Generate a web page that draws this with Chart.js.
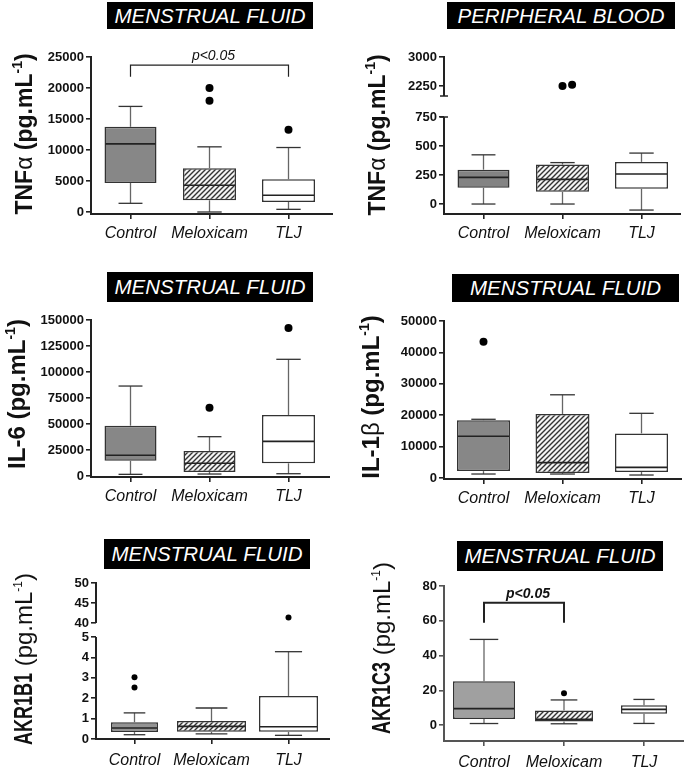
<!DOCTYPE html>
<html><head><meta charset="utf-8">
<script src="https://cdn.jsdelivr.net/npm/chart.js@4.4.0/dist/chart.umd.min.js"></script>
<style>
body{margin:0;background:#fff;width:685px;height:767px;position:relative;overflow:hidden;font-family:"Liberation Sans",Arial,sans-serif}
.ttl{position:absolute;background:#000;color:#fff;font:italic 20.5px "Liberation Sans",Arial,sans-serif;display:flex;align-items:center;justify-content:center;white-space:nowrap;z-index:5}
canvas{position:absolute}
</style></head><body>
<div class="ttl" style="left:107px;top:2px;width:206px;height:27px">MENSTRUAL FLUID</div>
<div class="ttl" style="left:447px;top:2px;width:228px;height:27px">PERIPHERAL BLOOD</div>
<div class="ttl" style="left:107px;top:272px;width:206px;height:30px">MENSTRUAL FLUID</div>
<div class="ttl" style="left:452px;top:274px;width:227px;height:28px">MENSTRUAL FLUID</div>
<div class="ttl" style="left:104px;top:539px;width:206px;height:30px">MENSTRUAL FLUID</div>
<div class="ttl" style="left:457px;top:541px;width:206px;height:30px">MENSTRUAL FLUID</div>
<script>
const groups = ['Control', 'Meloxicam', 'TLJ'];

// each box: [lower whisker, Q1, median, Q3, upper whisker]
const tnfMenstrualBoxes = [[1400,4690,10990,13740,17030],[0,1890,4310,7060,10510],[430,1620,2700,5280,10400]];
const tnfMenstrualOutliers = [[],[17950,20000],[13260]];
const tnfMenstrualTicks = [0,5000,10000,15000,20000,25000];
const tnfMenstrualBracket = ['Control','TLJ',23700,21800];

const tnfBloodBoxes = [[0,140,230,296,424],[0,105,212,340,357],[-52,131,259,363,439]];
const tnfBloodOutliers = [[],[2250,2285],[]];
const tnfBloodTicksLow = [0,250,500,750];
const tnfBloodTicksHigh = [2250,3000];

const il6Boxes = [[1600,14700,19900,48400,86500],[1900,3800,12200,24000,37800],[2200,12200,33300,58700,112200]];
const il6Outliers = [[],[65700],[142300]];
const il6Ticks = [0,25000,50000,75000,100000,125000,150000];

const il1bBoxes = [[1270,2200,13300,18400,18700],[1270,1600,4900,20400,26500],[950,1900,3400,14200,20600]];
const il1bOutliers = [[43400],[],[]];
const il1bTicks = [0,10000,20000,30000,40000,50000];

const akr1b1Boxes = [[0.21,0.34,0.54,0.82,1.28],[0.25,0.35,0.62,0.88,1.52],[0.18,0.35,0.6,2.11,4.28]];
const akr1b1Outliers = [[2.52,3.03],[],[41.4]];
const akr1b1TicksLow = [0,1,2,3,4,5];
const akr1b1TicksHigh = [40,45,50];

const akr1c3Boxes = [[0.95,3.6,9.5,25.3,49.3],[0.8,2.1,3.4,8.4,14.5],[1,6.5,9.1,11.4,14.8]];
const akr1c3Outliers = [[],[18.3],[]];
const akr1c3Ticks = [0,20,40,60,80];
const akr1c3Bracket = ['Control','Meloxicam',70.3,58.9];

const FF = '"Liberation Sans", Arial, sans-serif';

function hatch(){
  const c = document.createElement('canvas'); const s = 5;
  c.width = s; c.height = s; const g = c.getContext('2d');
  g.fillStyle = '#f4f4f4'; g.fillRect(0,0,s,s);
  g.strokeStyle = '#333'; g.lineWidth = 1.4;
  g.beginPath();
  g.moveTo(-1, s+1); g.lineTo(s+1, -1);
  g.moveTo(-1, 1); g.lineTo(1, -1);
  g.moveTo(s-1, s+1); g.lineTo(s+1, s-1);
  g.stroke();
  return g.createPattern(c, 'repeat');
}

function bold(sz){return 'bold '+sz+'px '+FF;}
function norm(sz){return sz+'px '+FF;}
function yTitle(name, greek, sz){
  const s = [{t:name, font:bold(sz)}];
  if (greek) s.push({t:greek, font:norm(sz)});
  s.push({t:' (pg.mL', font:bold(sz)});
  s.push({t:'-1', font:bold(Math.round(sz*0.6)), dy:sz*0.42});
  s.push({t:')', font:bold(sz)});
  return s;
}
function yTitleAkr(name, sz, sx){
  return [{t:name, font:bold(sz+1), sx:sx},{t:' (pg.mL', font:norm(sz)},{t:'-1', font:norm(Math.round(sz*0.5)), dy:sz*0.42},{t:')', font:norm(sz)}];
}

const panels = [
 {boxes:tnfMenstrualBoxes, outliers:tnfMenstrualOutliers, ticks:tnfMenstrualTicks, bracket:tnfMenstrualBracket,
  cv:[0,35,340,215], area:[91,57,328,214], axisEnd:333, range:[-323,25000], boxW:[52,53,53], fill:'#878787', r:4,
  title:yTitle('TNF','\u03b1',23), titlePos:[32,134], lblPad:5, xh:30, pText:'italic 14px '+FF, pLw:1.2},
 {boxes:tnfBloodBoxes, outliers:tnfBloodOutliers, ticks:tnfBloodTicksLow, ticksHigh:tnfBloodTicksHigh, lowTopPx:117,
  cv:[340,35,345,215], area:[444,57,681,214], axisEnd:681, range:[-86,750], rangeHigh:[1448,3000], breakVal:1991, breakCaps:true,
  boxW:[52,53,53], fill:'#838383', r:4, title:yTitle('TNF','\u03b1',23), titlePos:[385,135], lblPad:5, xh:30},
 {boxes:il6Boxes, outliers:il6Outliers, ticks:il6Ticks,
  cv:[0,305,340,207], area:[91,320,328,477], axisEnd:330, range:[-960,150000], boxW:[52,52,53], fill:'#878787', r:4,
  title:yTitle('IL-6',null,24), titlePos:[25,394], lblPad:5, xh:30},
 {boxes:il1bBoxes, outliers:il1bOutliers, ticks:il1bTicks,
  cv:[340,305,345,210], area:[444,321,681,479], axisEnd:682, range:[-318,50000], boxW:[53,54,53], fill:'#878787', r:4,
  title:yTitle('IL-1','\u03b2',24), titlePos:[379,397], lblPad:5, xh:30},
 {boxes:akr1b1Boxes, outliers:akr1b1Outliers, ticks:akr1b1TicksLow, ticksHigh:akr1b1TicksHigh, lowTopPx:637,
  cv:[0,545,340,222], area:[96,583,327,739], axisEnd:330, range:[0,5], rangeHigh:[36.5,50], breakVal:40, breakCaps:false,
  boxW:[47,69,59], fill:'#939393', r:3, title:yTitleAkr('AKR1B1',24,0.72), titlePos:[32,659], lblPad:7, xh:28},
 {boxes:akr1c3Boxes, outliers:akr1c3Outliers, ticks:akr1c3Ticks, bracket:akr1c3Bracket,
  cv:[340,545,345,222], area:[444,586,684,741], axisEnd:684, range:[-9.1,80], boxW:[62,58,46], fill:'#a0a0a0', r:3,
  title:yTitleAkr('AKR1C3',24,0.72), titlePos:[390,648], lblPad:7, xh:26, pText:'bold italic 14px '+FF, pLw:2, axisColor:'#555'}
];

function line(ctx,x1,y1,x2,y2){ctx.beginPath();ctx.moveTo(x1,y1);ctx.lineTo(x2,y2);ctx.stroke();}

function drawRot(ctx, segs, bx, cy){
  let total = 0;
  segs.forEach(s=>{ctx.font=s.font; s.w = ctx.measureText(s.t).width*(s.sx||1); total += s.w;});
  ctx.save(); ctx.translate(bx, cy); ctx.rotate(-Math.PI/2);
  let x = -total/2;
  ctx.fillStyle = '#111'; ctx.textAlign='left'; ctx.textBaseline='alphabetic';
  segs.forEach(s=>{
    ctx.save(); ctx.font = s.font; ctx.translate(x, -(s.dy||0)); ctx.scale(s.sx||1, 1);
    ctx.fillText(s.t, 0, 0); ctx.restore(); x += s.w;
  });
  ctx.restore();
}

function extras(p){
  return {id:'extras', afterDatasetsDraw(chart){
    const ctx = chart.ctx, xs = chart.scales.x, ca = chart.chartArea;
    const yl = chart.scales.y, yh = chart.scales.y2;
    const yp = v => (yh && v > p.range[1]) ? yh.getPixelForValue(v) : yl.getPixelForValue(v);
    const ox = p.cv[0], oy = p.cv[1];
    ctx.save();
    p.boxes.forEach((b,i)=>{
      const x = xs.getPixelForValue(i);
      const w = p.boxW[i], c = w*0.46;
      ctx.lineWidth = 1.3; ctx.strokeStyle = '#666';
      line(ctx, x, yp(b[3]), x, yp(b[4]));
      line(ctx, x, yp(b[1]), x, yp(b[0]));
      ctx.strokeStyle = '#333';
      line(ctx, x-c/2, yp(b[4]), x+c/2, yp(b[4]));
      line(ctx, x-c/2, yp(b[0]), x+c/2, yp(b[0]));
      ctx.lineWidth = 1.6; ctx.strokeStyle = '#222';
      line(ctx, x-w/2+1, yp(b[2]), x+w/2-1, yp(b[2]));
      ctx.fillStyle = '#000';
      let prev = null, off = 0;
      p.outliers[i].forEach(v=>{
        const y = yp(v);
        if (prev !== null && Math.abs(prev - y) < 2*p.r) off += 2.4*p.r; else off = 0;
        ctx.beginPath(); ctx.arc(x+off, y, p.r, 0, Math.PI*2); ctx.fill();
        prev = y;
      });
    });
    const ac = p.axisColor || '#222';
    ctx.strokeStyle = ac; ctx.lineWidth = 2;
    const L = ca.left;
    if (yh) {
      const t = yh.getPixelForValue(p.rangeHigh[1]) - 1, bk = yh.getPixelForValue(p.breakVal);
      line(ctx, L, t, L, bk);
      line(ctx, L, yl.top, L, ca.bottom);
      if (p.breakCaps) { ctx.lineWidth = 1.5; line(ctx, L-4, bk, L+4, bk); line(ctx, L-4, yl.top, L+4, yl.top); ctx.lineWidth = 2; }
    } else {
      line(ctx, L, ca.top-1, L, ca.bottom);
    }
    line(ctx, L-1, ca.bottom, p.axisEnd - ox, ca.bottom);
    if (p.bracket) {
      const [a, b2, top, drop] = p.bracket;
      const x1 = xs.getPixelForValue(groups.indexOf(a)), x2 = xs.getPixelForValue(groups.indexOf(b2));
      const yt = yp(top), yd = yp(drop);
      ctx.strokeStyle = '#222'; ctx.lineWidth = p.pLw;
      ctx.beginPath(); ctx.moveTo(x1, yd); ctx.lineTo(x1, yt); ctx.lineTo(x2, yt); ctx.lineTo(x2, yd); ctx.stroke();
      ctx.fillStyle = '#111'; ctx.font = p.pText; ctx.textAlign = 'center'; ctx.textBaseline = 'alphabetic';
      ctx.fillText('p<0.05', (x1+x2)/2 + 4, yt - 5);
    }
    drawRot(ctx, p.title, p.titlePos[0]-ox, p.titlePos[1]-oy);
    ctx.restore();
  }};
}

const pattern = hatch();

panels.forEach(p=>{
  const cv = document.createElement('canvas');
  const [cx, cy, cw, ch] = p.cv;
  cv.width = cw; cv.height = ch;
  cv.style.left = cx+'px'; cv.style.top = cy+'px'; cv.style.width = cw+'px'; cv.style.height = ch+'px';
  document.body.appendChild(cv);
  const [L, T, R, B] = p.area;
  const catW = (R - L)/3;
  const fills = [p.fill, pattern, '#ffffff'];
  const datasets = groups.map((g,i)=>({
    label: g,
    data: groups.map((_,j)=> j===i ? [p.boxes[i][1], p.boxes[i][3]] : null),
    backgroundColor: fills[i], borderColor: '#333', borderWidth: 1.5, borderSkipped: false,
    barPercentage: p.boxW[i]/catW, categoryPercentage: 1, grouped: false, yAxisID: 'y'
  }));
  const tickFont = {family: FF, size: 13, weight: 'bold'};
  const gridOpt = {drawOnChartArea:false, drawTicks:true, tickLength:5, color: p.axisColor || '#222', lineWidth:1.6};
  const yTicks = {font:tickFont, color:'#111', padding:2, autoSkip:false, callback: v => String(v)};
  const yw = L - cx;
  const scales = {
    x: {type:'category', labels: groups, offset:true,
        grid:{...gridOpt, offset:false}, border:{display:false},
        ticks:{font:{family:FF, size:16, style:'italic'}, color:'#111', padding:p.lblPad, maxRotation:0, autoSkip:false},
        afterFit: s=>{ s.height = p.xh; }},
    y: {type:'linear', position:'left', min:p.range[0], max:p.range[1],
        afterBuildTicks: s=>{ s.ticks = p.ticks.map(v=>({value:v})); },
        grid:gridOpt, border:{display:false}, ticks:yTicks,
        afterFit: s=>{ s.width = yw; }}
  };
  if (p.rangeHigh) {
    scales.y.stack = 'brk'; scales.y.stackWeight = B - p.lowTopPx;
    scales.y2 = {type:'linear', position:'left', stack:'brk', stackWeight: p.lowTopPx - T,
        min:p.rangeHigh[0], max:p.rangeHigh[1],
        afterBuildTicks: s=>{ s.ticks = p.ticksHigh.map(v=>({value:v})); },
        grid:gridOpt, border:{display:false}, ticks:yTicks,
        afterFit: s=>{ s.width = yw; }};
  }
  new Chart(cv, {
    type:'bar',
    data:{labels: groups, datasets},
    options:{
      responsive:false, animation:false, devicePixelRatio:1,
      layout:{padding:{left:0, top:T-cy, right:cx+cw-R, bottom:Math.max(0, cy+ch-B-p.xh)}},
      plugins:{legend:{display:false}, tooltip:{enabled:false}},
      scales
    },
    plugins:[extras(p)]
  });
});
</script>
</body></html>
